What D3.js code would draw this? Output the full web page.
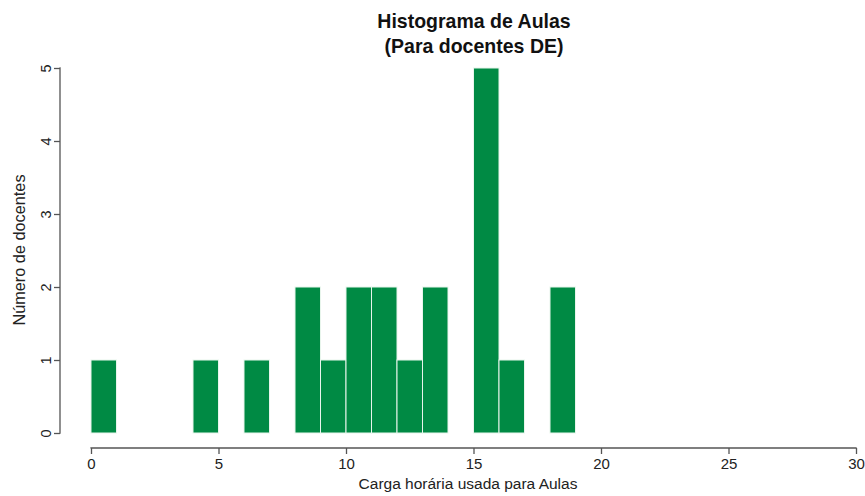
<!DOCTYPE html>
<html>
<head>
<meta charset="utf-8">
<script src="https://cdn.jsdelivr.net/npm/d3@7"></script>
<style>
  html, body { margin: 0; padding: 0; background: #fff; }
  svg { display: block; font-family: "Liberation Sans", Arial, sans-serif; }
</style>
</head>
<body>
<svg id="chart" width="865" height="496"></svg>
<script>
// Data: histogram bins of width 1 (start of bin) and counts
const binStarts = [0, 4, 6, 8, 9, 10, 11, 12, 13, 15, 16, 18];
const counts    = [1, 1, 1, 2, 1, 2, 2, 1, 2, 5, 1, 2];
const binWidth = 1;
const xTicks = [0, 5, 10, 15, 20, 25, 30];
const yTicks = [0, 1, 2, 3, 4, 5];
const titleLines = ["Histograma de Aulas", "(Para docentes DE)"];
const xLabel = "Carga horária usada para Aulas";
const yLabel = "Número de docentes";

const svg = d3.select("#chart");
const x = d3.scaleLinear().domain([0, 30]).range([91, 856]);
const y = d3.scaleLinear().domain([0, 5]).range([433, 68]);
const axisColor = "#555";

// bars
svg.append("g").selectAll("rect")
  .data(binStarts.map((s, i) => ({ s, c: counts[i] })))
  .join("rect")
  .attr("x", d => x(d.s))
  .attr("width", d => x(d.s + binWidth) - x(d.s))
  .attr("y", d => y(d.c))
  .attr("height", d => y(0) - y(d.c))
  .attr("fill", "#008A44")
  .attr("stroke", "#e8f5ec")
  .attr("stroke-width", 1);

// x axis
const gx = svg.append("g").attr("transform", "translate(0,448)")
  .call(d3.axisBottom(x).tickValues(xTicks).tickSize(6).tickPadding(4).tickFormat(d3.format("d")));
gx.select(".domain").attr("stroke", axisColor).attr("stroke-width", 1.3).attr("d", `M${x(0)},0.5V0H${x(30)}V0.5`);
gx.selectAll(".tick line").attr("stroke", axisColor).attr("stroke-width", 1.3);
gx.selectAll(".tick text").attr("fill", "#222").attr("font-size", 15).attr("font-family", "Liberation Sans, Arial, sans-serif");

// y axis
const gy = svg.append("g").attr("transform", "translate(60,0)")
  .call(d3.axisLeft(y).tickValues(yTicks).tickSize(6).tickFormat(d3.format("d")));
gy.select(".domain").attr("stroke", axisColor).attr("stroke-width", 1.3).attr("d", `M-0.5,${y(5)}H0V${y(0)}H-0.5`);
gy.selectAll(".tick line").attr("stroke", axisColor).attr("stroke-width", 1.3);
gy.selectAll(".tick text")
  .attr("fill", "#222").attr("font-size", 14.5)
  .attr("font-family", "Liberation Sans, Arial, sans-serif")
  .attr("text-anchor", "middle")
  .attr("x", 0).attr("dy", 0)
  .attr("transform", "translate(-9,0) rotate(-90)")
  .attr("y", 0);

// title
const titleG = svg.append("g");
titleLines.forEach((t, i) => {
  titleG.append("text")
    .attr("transform", `translate(474,${28 + i * 25}) scale(0.93,1)`)
    .attr("text-anchor", "middle").attr("font-weight", "bold").attr("font-size", 21)
    .attr("fill", "#111").text(t);
});

// axis labels
svg.append("text").attr("x", 468).attr("y", 489)
  .attr("text-anchor", "middle").attr("font-size", 15.5).attr("fill", "#222")
  .text(xLabel);
svg.append("text").attr("transform", "translate(25,250) rotate(-90)")
  .attr("text-anchor", "middle").attr("font-size", 16.3).attr("fill", "#222")
  .text(yLabel);
</script>
</body>
</html>
